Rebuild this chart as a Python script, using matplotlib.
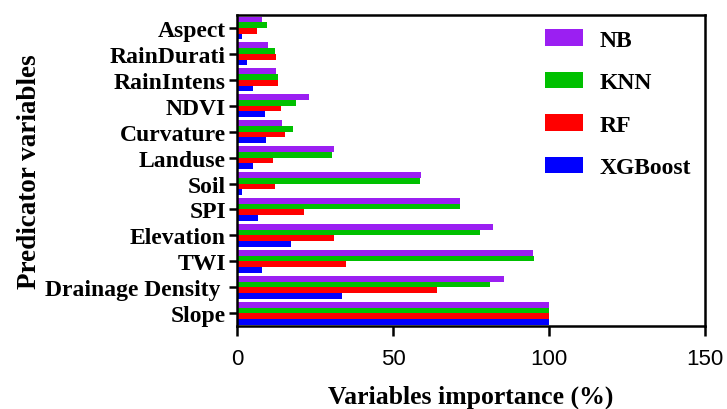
import matplotlib.pyplot as plt
import numpy as np

plt.rcParams['font.family'] = ['Liberation Serif', 'DejaVu Serif']
plt.rcParams['font.weight'] = 'bold'

variables = ['Slope', 'Drainage Density ', 'TWI', 'Elevation', 'SPI', 'Soil',
             'Landuse', 'Curvature', 'NDVI', 'RainIntens', 'RainDurati', 'Aspect']

nb = [100, 85.7, 94.8, 82, 71.5, 58.9, 31, 14.3, 23, 12.5, 10, 8.1]
knn = [100, 80.9, 95.2, 78, 71.5, 58.6, 30.3, 18, 19, 13, 12.2, 9.5]
rf = [100, 64.2, 34.8, 31, 21.5, 12.2, 11.6, 15.4, 14, 13, 12.5, 6.3]
xgb = [100, 33.6, 7.9, 17.3, 6.8, 1.5, 5.2, 9.3, 9, 5.2, 3.3, 1.7]

models = ['NB', 'KNN', 'RF', 'XGBoost']
colors = ['#9b1ff2', '#00c000', '#ff0000', '#0000ff']


def plot_importance() -> None:
    fig = plt.figure(figsize=(7.27, 4.10), dpi=100)
    ax = fig.add_axes([0.326, 0.202, 0.644, 0.759])

    y = np.arange(len(variables))
    h = 0.22
    offsets = [1.5 * h, 0.5 * h, -0.5 * h, -1.5 * h]
    for vals, off, col, name in zip([nb, knn, rf, xgb], offsets, colors, models):
        ax.barh(y + off, vals, height=h, color=col, label=name)

    ax.set_xlim(0, 150)
    ax.set_ylim(-0.5, len(variables) - 0.5)
    ax.set_xticks([0, 50, 100, 150])
    ax.set_yticks(y)
    ax.set_yticklabels(variables, fontsize=17, fontweight='bold')
    ax.tick_params(axis='x', width=1.8, length=7, pad=9)
    ax.tick_params(axis='y', width=1.8, length=6, pad=2)
    for lab in ax.get_xticklabels():
        lab.set_fontfamily('Liberation Sans')
        lab.set_fontweight('normal')
        lab.set_fontsize(16)
    for sp in ax.spines.values():
        sp.set_linewidth(1.8)

    ax.set_xlabel('Variables importance (%)', fontsize=18.5, fontweight='bold', labelpad=11)
    ax.set_ylabel('Predicator variables', fontsize=19.5, fontweight='bold', labelpad=2)

    ax.legend(loc='upper left', frameon=False, handlelength=1.6,
              handleheight=0.7, labelspacing=0.89, handletextpad=0.7,
              borderpad=0, borderaxespad=0,
              bbox_to_anchor=(0.658, 0.955),
              prop={'weight': 'bold', 'size': 17})

    fig.savefig('out.png', dpi=100)


if __name__ == '__main__':
    plot_importance()
